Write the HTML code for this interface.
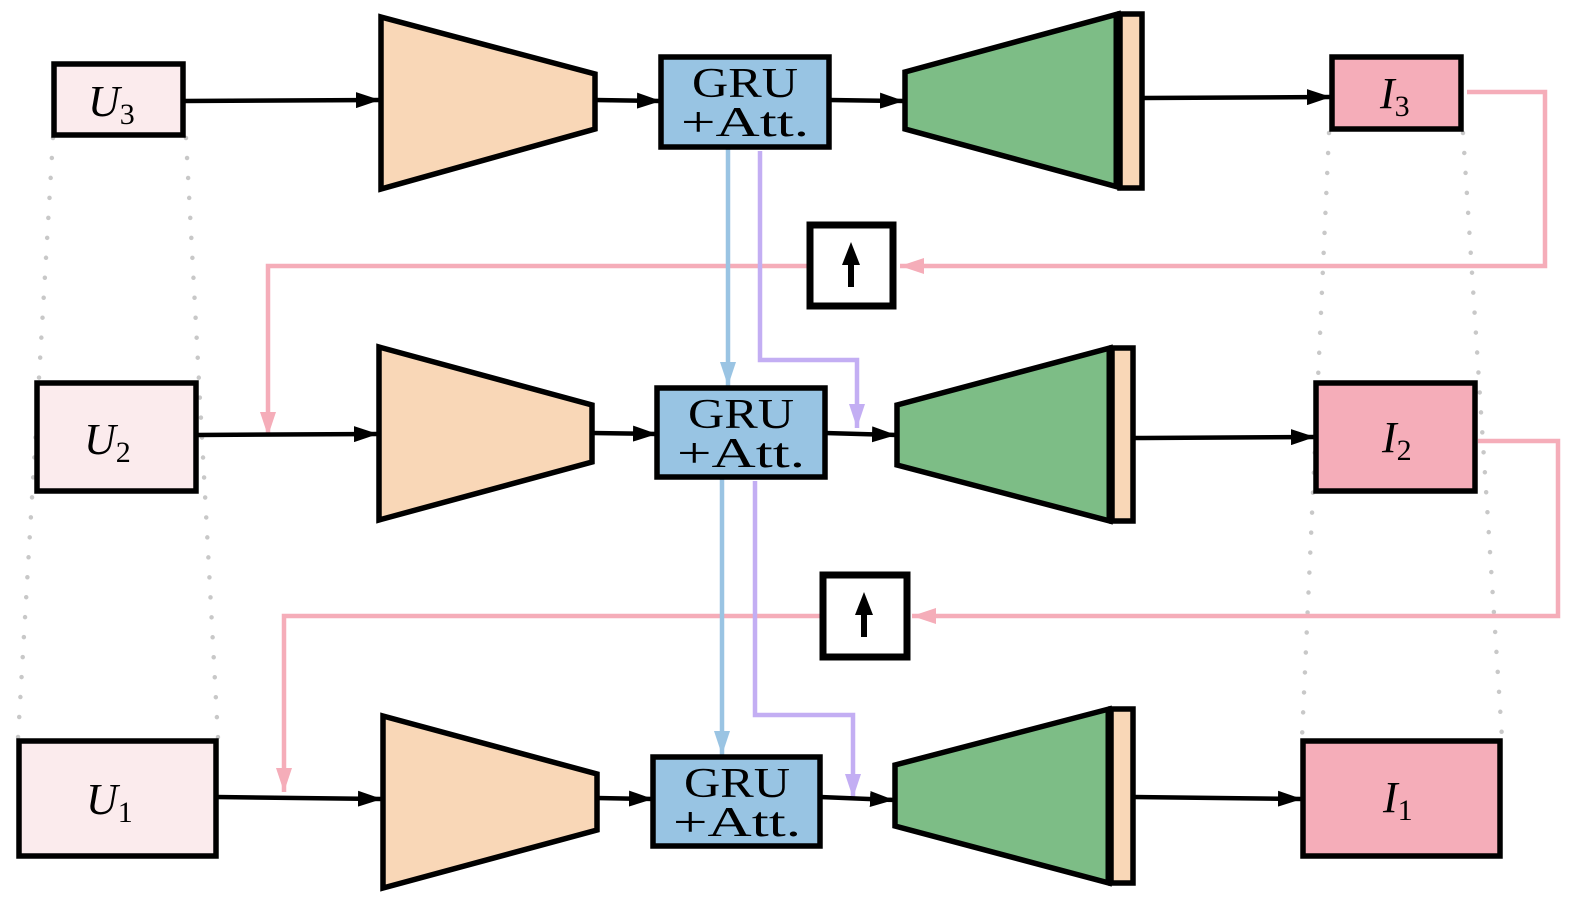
<!DOCTYPE html>
<html><head><meta charset="utf-8"><style>
html,body{margin:0;padding:0;background:#fff;}
svg{display:block;}
text{font-family:"Liberation Serif",serif;fill:#000;}
</style></head><body>
<svg width="1581" height="911" viewBox="0 0 1581 911" xmlns="http://www.w3.org/2000/svg">
<defs>
<marker id="ak" markerWidth="24" markerHeight="16" refX="24" refY="8" orient="auto" markerUnits="userSpaceOnUse"><path d="M0,0 L24,8 L0,16 Z" fill="#000"/></marker>
<marker id="ap" markerWidth="24" markerHeight="16" refX="24" refY="8" orient="auto" markerUnits="userSpaceOnUse"><path d="M0,0 L24,8 L0,16 Z" fill="#f5adb9"/></marker>
<marker id="abl" markerWidth="24" markerHeight="16" refX="24" refY="8" orient="auto" markerUnits="userSpaceOnUse"><path d="M0,0 L24,8 L0,16 Z" fill="#9ac4e3"/></marker>
<marker id="apu" markerWidth="24" markerHeight="16" refX="24" refY="8" orient="auto" markerUnits="userSpaceOnUse"><path d="M0,0 L24,8 L0,16 Z" fill="#c3aef3"/></marker>
</defs>
<g stroke="#c8c8c8" stroke-width="4.5" stroke-linecap="round" stroke-dasharray="0 20" fill="none">
<line x1="53" y1="138" x2="18" y2="738"/>
<line x1="186" y1="138" x2="218" y2="738"/>
<line x1="1329" y1="133" x2="1302" y2="738"/>
<line x1="1463" y1="133" x2="1502" y2="738"/>
</g>
<g stroke="#f5adb9" stroke-width="4.5" fill="none">
<polyline points="1467,92 1545,92 1545,266 900,266" marker-end="url(#ap)"/>
<polyline points="809,266 268,266 268,436" marker-end="url(#ap)"/>
<polyline points="1478,441 1558,441 1558,616 912,616" marker-end="url(#ap)"/>
<polyline points="822,616 284,616 284,792" marker-end="url(#ap)"/>
</g>
<g stroke-width="4.5" fill="none">
<line x1="728" y1="149" x2="728" y2="386" stroke="#9ac4e3" marker-end="url(#abl)"/>
<line x1="722" y1="479" x2="722" y2="755" stroke="#9ac4e3" marker-end="url(#abl)"/>
<polyline points="760,151 760,360 857,360 857,428" stroke="#c3aef3" marker-end="url(#apu)"/>
<polyline points="755,481 755,715 853,715 853,798" stroke="#c3aef3" marker-end="url(#apu)"/>
</g>
<g stroke="#000" stroke-width="4.5" fill="none">
<line x1="183" y1="101" x2="380" y2="100" marker-end="url(#ak)"/>
<line x1="595" y1="100" x2="661" y2="101" marker-end="url(#ak)"/>
<line x1="829" y1="100" x2="904" y2="101" marker-end="url(#ak)"/>
<line x1="1142" y1="98" x2="1331" y2="97" marker-end="url(#ak)"/>
<line x1="196" y1="435" x2="378" y2="434" marker-end="url(#ak)"/>
<line x1="592" y1="433" x2="657" y2="434" marker-end="url(#ak)"/>
<line x1="825" y1="433" x2="896" y2="435" marker-end="url(#ak)"/>
<line x1="1133" y1="438" x2="1315" y2="437" marker-end="url(#ak)"/>
<line x1="216" y1="797" x2="382" y2="799" marker-end="url(#ak)"/>
<line x1="597" y1="798" x2="653" y2="799" marker-end="url(#ak)"/>
<line x1="820" y1="797" x2="894" y2="800" marker-end="url(#ak)"/>
<line x1="1133" y1="797" x2="1302" y2="799" marker-end="url(#ak)"/>
</g>
<g stroke="#000" stroke-width="5.5" stroke-linejoin="miter">
<rect x="54" y="64" width="129" height="71" fill="#fbebed"/>
<rect x="37" y="383" width="159" height="108" fill="#fbebed"/>
<rect x="19" y="741" width="197" height="115" fill="#fbebed"/>
<rect x="1332" y="57" width="129" height="72" fill="#f5adb9"/>
<rect x="1316" y="383" width="159" height="108" fill="#f5adb9"/>
<rect x="1303" y="741" width="197" height="115" fill="#f5adb9"/>
<polygon points="381,17 595,74 595,129 381,189" fill="#f9d7b7"/>
<polygon points="379,347 592,405 592,462 379,520" fill="#f9d7b7"/>
<polygon points="383,716 597,774 597,830 383,888" fill="#f9d7b7"/>
<rect x="661" y="57" width="168" height="90" fill="#98c4e3"/>
<rect x="657" y="388" width="168" height="89" fill="#98c4e3"/>
<rect x="653" y="757" width="167" height="89" fill="#98c4e3"/>
<polygon points="905,72 1118,14 1118,187 905,129" fill="#7dbd86"/>
<rect x="1120" y="14" width="22" height="174" fill="#f9d7b7"/>
<polygon points="897,405 1110,348 1110,521 897,465" fill="#7dbd86"/>
<rect x="1112" y="348" width="21" height="173" fill="#f9d7b7"/>
<polygon points="895,765 1109,709 1109,883 895,826" fill="#7dbd86"/>
<rect x="1111" y="709" width="22" height="174" fill="#f9d7b7"/>
<rect x="810" y="225" width="83" height="81" fill="#fff" stroke-width="7"/>
<rect x="823" y="575" width="84" height="82" fill="#fff" stroke-width="7"/>
</g>
<line x1="1117" y1="14" x2="1117" y2="188" stroke="#000" stroke-width="7"/>
<line x1="1110" y1="348" x2="1110" y2="522" stroke="#000" stroke-width="7"/>
<line x1="1109" y1="709" x2="1109" y2="884" stroke="#000" stroke-width="7"/>
<line x1="851" y1="287" x2="851" y2="258" stroke="#000" stroke-width="6"/>
<path d="M851,242 L842,265 L860,265 Z" fill="#000"/>
<line x1="864" y1="637" x2="864" y2="608" stroke="#000" stroke-width="6"/>
<path d="M864,592 L855,615 L873,615 Z" fill="#000"/>
<g font-size="42" text-anchor="middle">
<text x="745" y="97" textLength="106" lengthAdjust="spacingAndGlyphs">GRU</text><text x="745" y="136" textLength="128" lengthAdjust="spacingAndGlyphs">+Att.</text>
<text x="741" y="428" textLength="106" lengthAdjust="spacingAndGlyphs">GRU</text><text x="741" y="467" textLength="128" lengthAdjust="spacingAndGlyphs">+Att.</text>
<text x="737" y="797" textLength="106" lengthAdjust="spacingAndGlyphs">GRU</text><text x="737" y="836" textLength="128" lengthAdjust="spacingAndGlyphs">+Att.</text>
</g>
<g font-size="44" font-style="italic">
<text x="88" y="116">U<tspan font-style="normal" font-size="30" dy="8">3</tspan></text>
<text x="84" y="454">U<tspan font-style="normal" font-size="30" dy="8">2</tspan></text>
<text x="86" y="814">U<tspan font-style="normal" font-size="30" dy="8">1</tspan></text>
<text x="1380" y="108">I<tspan font-style="normal" font-size="30" dy="8">3</tspan></text>
<text x="1382" y="452">I<tspan font-style="normal" font-size="30" dy="8">2</tspan></text>
<text x="1383" y="812">I<tspan font-style="normal" font-size="30" dy="8">1</tspan></text>
</g>
</svg>
</body></html>
